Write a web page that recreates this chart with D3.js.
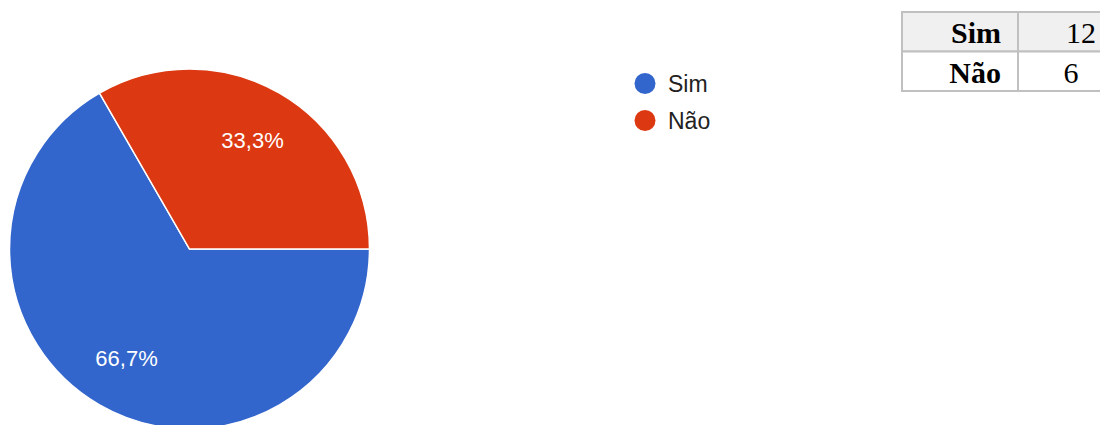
<!DOCTYPE html>
<html>
<head>
<meta charset="utf-8">
<script src="https://cdn.jsdelivr.net/npm/d3@7"></script>
<style>
	html, body { margin: 0; padding: 0; background: #fff; }
	svg { display: block; }
</style>
</head>
<body>
<svg id="pie-chart" width="1100" height="425"></svg>
<script>
// chart data
var categories = ["Sim", "Não"];
var counts = [12, 6];
var sliceColors = ["#3366cc", "#dc3912"];

(function() {

	'use strict';

	var svg = d3.select("#pie-chart"),
		cx = 189.5,
		cy = 249,
		radius = 180,
		labelRadius = 126;

	var data = categories.map(function(c, i) {
		return {name: c, count: counts[i], color: sliceColors[i]};
	});
	var total = d3.sum(counts);

	var ptBR = d3.formatLocale({decimal: ",", thousands: ".", grouping: [3], currency: ["R$", ""]});
	var pctFormat = ptBR.format(".1%");

	/**
	* draw the pie
	*/
	var drawPie = function() {
		var pie = d3.pie()
			.sort(null)
			.value(function(d) { return d.count; })
			.startAngle(Math.PI / 2)
			.endAngle(Math.PI / 2 + 2 * Math.PI);

		var arc = d3.arc().innerRadius(0).outerRadius(radius);
		var labelArc = d3.arc().innerRadius(labelRadius).outerRadius(labelRadius);

		var g = svg.append("g").attr("transform", "translate(" + cx + "," + cy + ")");
		var arcs = pie(data);

		g.selectAll("path")
			.data(arcs)
			.enter()
			.append("path")
			.attr("d", arc)
			.attr("fill", function(d) { return d.data.color; })
			.attr("stroke", "#fff")
			.attr("stroke-width", 1.5);

		g.selectAll("text")
			.data(arcs)
			.enter()
			.append("text")
			.attr("transform", function(d) { return "translate(" + labelArc.centroid(d) + ")"; })
			.attr("dy", "0.36em")
			.attr("text-anchor", "middle")
			.attr("fill", "#fff")
			.style("font-family", "'Liberation Sans', Arial, sans-serif")
			.style("font-size", "22px")
			.text(function(d) { return pctFormat(d.data.count / total); });
	};

	/**
	* draw the legend
	*/
	var drawLegend = function() {
		var y = d3.scalePoint().domain(categories).range([83.5, 120.5]);

		var items = svg.append("g")
			.selectAll("g")
			.data(data)
			.enter()
			.append("g")
			.attr("transform", function(d) { return "translate(645," + y(d.name) + ")"; });

		items.append("circle")
			.attr("r", 10.5)
			.attr("fill", function(d) { return d.color; });

		items.append("text")
			.attr("x", 23)
			.attr("dy", "0.36em")
			.attr("fill", "#222")
			.style("font-family", "'Liberation Sans', Arial, sans-serif")
			.style("font-size", "23px")
			.text(function(d) { return d.name; });
	};

	/**
	* draw the small counts table
	*/
	var drawTable = function() {
		var rowH = 39.5,
			top = 12,
			x0 = 902,
			x1 = 1018,
			x2 = 1130;
		var y = d3.scaleBand().domain(categories).range([top, top + rowH * categories.length]);
		var valueAnchor = ["end", "middle"];
		var valueX = [1096, 1071];

		var t = svg.append("g");

		t.selectAll("rect")
			.data(data)
			.enter()
			.append("rect")
			.attr("x", x0)
			.attr("y", function(d) { return y(d.name); })
			.attr("width", x2 - x0)
			.attr("height", y.bandwidth())
			.attr("fill", function(d, i) { return i === 0 ? "#f0f0f0" : "#fff"; })
			.attr("stroke", "#c0c0c0")
			.attr("stroke-width", 2);

		t.append("line")
			.attr("x1", x1).attr("x2", x1)
			.attr("y1", top).attr("y2", top + rowH * categories.length)
			.attr("stroke", "#c0c0c0")
			.attr("stroke-width", 2);

		var rows = t.selectAll("g.row")
			.data(data)
			.enter()
			.append("g")
			.attr("class", "row")
			.attr("transform", function(d) { return "translate(0," + y(d.name) + ")"; });

		rows.append("text")
			.attr("x", 1001)
			.attr("y", 31)
			.attr("text-anchor", "end")
			.attr("fill", "#000")
			.style("font-family", "'Liberation Serif', 'Times New Roman', serif")
			.style("font-weight", "bold")
			.style("font-size", "30px")
			.text(function(d) { return d.name; });

		rows.append("text")
			.attr("x", function(d, i) { return valueX[i]; })
			.attr("y", 31)
			.attr("text-anchor", function(d, i) { return valueAnchor[i]; })
			.attr("fill", "#000")
			.style("font-family", "'Liberation Serif', 'Times New Roman', serif")
			.style("font-size", "30px")
			.text(function(d) { return d.count; });
	};

	drawPie();
	drawLegend();
	drawTable();

})();
</script>
</body>
</html>
